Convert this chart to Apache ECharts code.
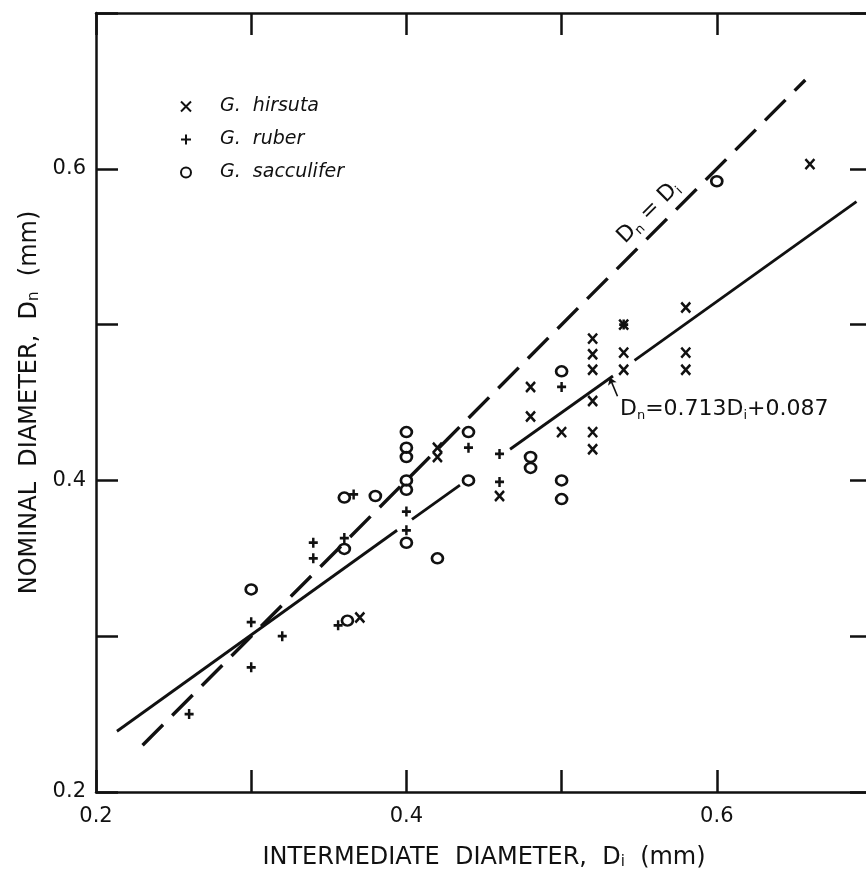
<!DOCTYPE html>
<html>
<head>
<meta charset="utf-8">
<title>Nominal vs intermediate diameter</title>
<script src="https://cdn.jsdelivr.net/npm/echarts@6.0.0/dist/echarts.min.js"></script>
<style>
  html, body { margin: 0; padding: 0; background: #fff; }
  #chart { width: 866px; height: 875px; }
</style>
</head>
<body>
<div id="chart"></div>
<script>
// G. hirsuta (x)
const hirsutaX = [0.37, 0.42, 0.42, 0.46, 0.48, 0.48, 0.50, 0.52, 0.52, 0.52, 0.52, 0.52, 0.52, 0.54, 0.54, 0.54, 0.58, 0.58, 0.58, 0.66];
const hirsutaY = [0.312, 0.421, 0.415, 0.390, 0.460, 0.441, 0.431, 0.491, 0.481, 0.471, 0.451, 0.431, 0.420, 0.500, 0.482, 0.471, 0.511, 0.482, 0.471, 0.603];

// G. ruber (+)
const ruberX = [0.26, 0.30, 0.30, 0.32, 0.34, 0.34, 0.356, 0.36, 0.366, 0.40, 0.40, 0.44, 0.46, 0.46, 0.50, 0.54];
const ruberY = [0.250, 0.280, 0.309, 0.300, 0.350, 0.360, 0.307, 0.363, 0.391, 0.380, 0.368, 0.421, 0.417, 0.399, 0.460, 0.500];

// G. sacculifer (o)
const sacculiferX = [0.30, 0.36, 0.36, 0.362, 0.38, 0.40, 0.40, 0.40, 0.40, 0.40, 0.40, 0.42, 0.44, 0.44, 0.48, 0.48, 0.50, 0.50, 0.50, 0.60];
const sacculiferY = [0.330, 0.356, 0.389, 0.310, 0.390, 0.431, 0.421, 0.415, 0.400, 0.394, 0.360, 0.350, 0.431, 0.400, 0.415, 0.408, 0.470, 0.400, 0.388, 0.592];

// Dn = Di dashed line
const identityX = [0.23, 0.657];
const identityY = [0.23, 0.657];

// fitted line, drawn in pieces (gaps around the points)
const fitSegX = [[0.2135, 0.394], [0.4036, 0.4345], [0.4668, 0.5331], [0.547, 0.69]];
const fitSegY = [[0.239, 0.368], [0.375, 0.397], [0.420, 0.467], [0.477, 0.579]];

// little arrow from the equation to the line
const arrowX = [0.536, 0.531];
const arrowY = [0.454, 0.466];

// text anchors
const identityLabelPos = [0.556, 0.572];
const fitLabelPos = [0.5376, 0.4457];

const xTickLabels = ['0.2', '0.4', '0.6'];
const yTickLabels = ['0.2', '0.4', '0.6'];

const ink = '#111';
const font = 'DejaVu Sans';
const crossPath = 'path://M0,0L10,10M10,0L0,10';
const plusPath = 'path://M5,0L5,10M0,5L10,5';

const pairs = (xs, ys) => xs.map((x, i) => [x, ys[i]]);
const onlyLabels = list => v => (list.includes(v.toFixed(1)) ? v.toFixed(1) : '');

const rich = {
  m: { fontSize: 22, fontFamily: font, color: ink, lineHeight: 26 },
  s: { fontSize: 13, fontFamily: font, color: ink, lineHeight: 12, verticalAlign: 'bottom' }
};
const nameRich = {
  s: { fontSize: 15, fontFamily: font, color: ink, lineHeight: 12, verticalAlign: 'bottom' }
};

const baseAxis = () => ({
  type: 'value',
  min: 0.2,
  max: 0.7,
  interval: 0.1,
  axisLine: { lineStyle: { color: ink, width: 2.5 } },
  axisTick: { inside: true, length: 22, lineStyle: { color: ink, width: 2.5 } },
  splitLine: { show: false }
});

const chart = echarts.init(document.getElementById('chart'));

chart.setOption({
  animation: false,
  backgroundColor: '#fff',
  grid: { left: 96, top: 13, width: 776, height: 779, outerBoundsMode: 'none', containLabel: false },
  legend: {
    data: [
      { name: 'G. hirsuta', icon: crossPath },
      { name: 'G. ruber', icon: plusPath },
      { name: 'G. sacculifer', icon: 'circle' }
    ],
    orient: 'vertical',
    left: 175,
    top: 92,
    itemWidth: 10,
    itemHeight: 10,
    itemGap: 14,
    selectedMode: false,
    formatter: name => name.replace('. ', '.  '),
    textStyle: { fontSize: 19, fontStyle: 'italic', fontFamily: font, color: ink, padding: [0, 0, 0, 24] }
  },
  xAxis: [
    Object.assign(baseAxis(), {
      position: 'bottom',
      axisLabel: { formatter: onlyLabels(xTickLabels), fontSize: 21, fontFamily: font, color: ink, margin: 14 },
      name: 'INTERMEDIATE  DIAMETER,  D{s|i}  (mm)',
      nameLocation: 'middle',
      nameGap: 54,
      nameTextStyle: { fontSize: 24, fontFamily: font, color: ink, rich: nameRich }
    }),
    Object.assign(baseAxis(), { position: 'top', axisLabel: { show: false } })
  ],
  yAxis: [
    Object.assign(baseAxis(), {
      position: 'left',
      axisLabel: { formatter: onlyLabels(yTickLabels), fontSize: 21, fontFamily: font, color: ink, margin: 10 },
      name: 'NOMINAL  DIAMETER,  D{s|n}  (mm)',
      nameLocation: 'middle',
      nameRotate: 90,
      nameGap: 54,
      nameTextStyle: { fontSize: 24, fontFamily: font, color: ink, rich: nameRich }
    }),
    Object.assign(baseAxis(), { position: 'right', axisLabel: { show: false } })
  ],
  series: [
    {
      name: 'Dn = Di',
      type: 'line',
      data: pairs(identityX, identityY),
      symbol: 'none',
      silent: true,
      lineStyle: { color: ink, width: 3.4, type: [29, 13] },
      z: 1
    },
    {
      name: 'fit',
      type: 'lines',
      coordinateSystem: 'cartesian2d',
      silent: true,
      lineStyle: { color: ink, width: 2.8, opacity: 1 },
      data: fitSegX.map((xs, i) => ({ coords: pairs(xs, fitSegY[i]) })),
      z: 1
    },
    {
      name: 'arrow',
      type: 'lines',
      coordinateSystem: 'cartesian2d',
      silent: true,
      symbol: ['none', 'arrow'],
      symbolSize: 7,
      lineStyle: { color: ink, width: 1.6, opacity: 1 },
      data: [{ coords: pairs(arrowX, arrowY) }],
      z: 1
    },
    {
      name: 'G. hirsuta',
      type: 'scatter',
      symbol: crossPath,
      symbolSize: [9, 10],
      itemStyle: { color: 'rgba(0,0,0,0)', borderColor: ink, borderWidth: 2.6, opacity: 1 },
      data: pairs(hirsutaX, hirsutaY)
    },
    {
      name: 'G. ruber',
      type: 'scatter',
      symbol: plusPath,
      symbolSize: [9, 10],
      itemStyle: { color: 'rgba(0,0,0,0)', borderColor: ink, borderWidth: 2.6, opacity: 1 },
      data: pairs(ruberX, ruberY)
    },
    {
      name: 'G. sacculifer',
      type: 'scatter',
      symbol: 'circle',
      symbolSize: [11, 10],
      itemStyle: { color: 'rgba(0,0,0,0)', borderColor: ink, borderWidth: 2.6, opacity: 1 },
      data: pairs(sacculiferX, sacculiferY)
    },
    {
      name: 'labels',
      type: 'scatter',
      symbolSize: 0,
      silent: true,
      itemStyle: { opacity: 1 },
      data: [
        {
          value: identityLabelPos,
          label: { show: true, color: ink, position: 'inside', rotate: 45, formatter: '{m|D}{s|n}{m| = D}{s|i}', rich: rich }
        },
        {
          value: fitLabelPos,
          label: { show: true, color: ink, position: 'right', distance: 0, formatter: '{m|D}{s|n}{m|=0.713D}{s|i}{m|+0.087}', rich: rich }
        }
      ]
    }
  ]
});
</script>
</body>
</html>
